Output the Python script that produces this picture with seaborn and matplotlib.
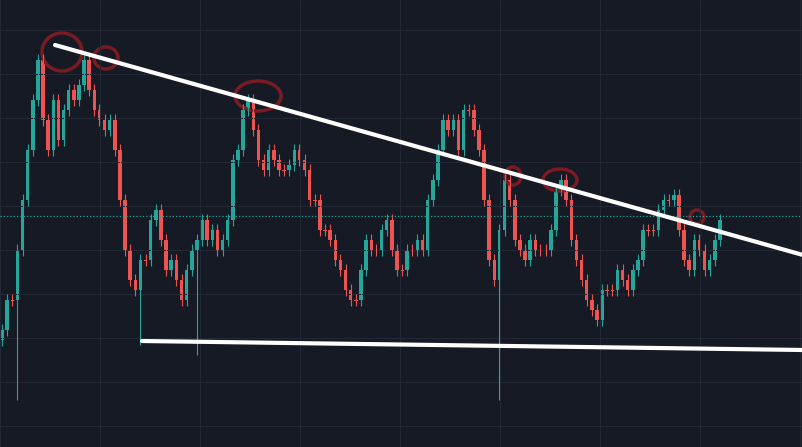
import matplotlib
matplotlib.use("Agg")
import matplotlib.pyplot as plt
import seaborn as sns
import numpy as np
from matplotlib.patches import Ellipse

# closing levels (screen-y units, top=0) from left to right
closes = [330,300,300,250,200,150,100,60,120,150,100,140,110,90,100,85,60,90,110,120,
          130,120,150,200,250,280,290,260,260,220,210,240,270,260,280,300,270,250,240,220,
          240,230,250,240,220,160,150,110,100,130,160,170,150,160,170,170,165,150,160,170,
          200,200,230,230,240,260,270,290,300,300,270,240,250,250,230,220,250,270,270,250,
          250,240,250,200,180,150,120,130,120,150,110,110,130,150,200,260,280,230,180,200,
          240,250,260,240,250,250,250,230,190,180,200,240,260,280,300,310,320,290,290,290,
          270,280,290,270,260,230,230,230,210,200,200,195,230,260,270,240,250,270,260,240,220]
long_low_idx = [3, 27, 38, 97]
long_low_val = [400, 345, 355, 400]

sns.set_style("dark", {"axes.facecolor": "#161a25", "figure.facecolor": "#161a25"})
fig = plt.figure(figsize=(8.03, 4.47), dpi=100)
ax = fig.add_axes([0, 0, 1, 1])
ax.set_facecolor("#161a25")
for gx in np.arange(0, 803, 100):
    ax.axvline(gx, color="#232836", lw=0.8)
for gy in np.arange(30, 447, 44):
    ax.axhline(gy, color="#232836", lw=0.8)

n = len(closes)
step = 718 / (n - 1)
xs = np.arange(n) * step + 2
opens = [closes[0] + 10] + closes[:-1]
for i in range(n):
    o, c = opens[i], closes[i]
    col = "#26a69a" if c < o else "#ef5350"
    hi = min(o, c) - 6
    lo = max(o, c) + 6
    if i in long_low_idx:
        lo = long_low_val[long_low_idx.index(i)]
    ax.vlines(xs[i], hi, lo, color=col, lw=0.8)
    ax.bar(xs[i], max(abs(c - o), 1), bottom=min(o, c), width=3.5, color=col,
           edgecolor="none", linewidth=0)

ax.axhline(216, color="#26a69a", ls=":", lw=0.9)
ax.plot([55, 803], [45, 255], color="white", lw=3)
ax.plot([142, 803], [341, 350], color="white", lw=3)
for (cx, cy, w, h) in [(62, 52, 40, 38), (106, 58, 24, 22), (258, 96, 46, 30),
                       (513, 176, 16, 18), (560, 180, 34, 22), (697, 217, 14, 14)]:
    ax.add_patch(Ellipse((cx, cy), w, h, fill=False, ec="#7a1a22", lw=2.5))

ax.set_xlim(0, 803)
ax.set_ylim(447, 0)
ax.set_xticks([]); ax.set_yticks([])
for s in ax.spines.values():
    s.set_visible(False)
fig.savefig("out.png", dpi=100, facecolor="#161a25")
